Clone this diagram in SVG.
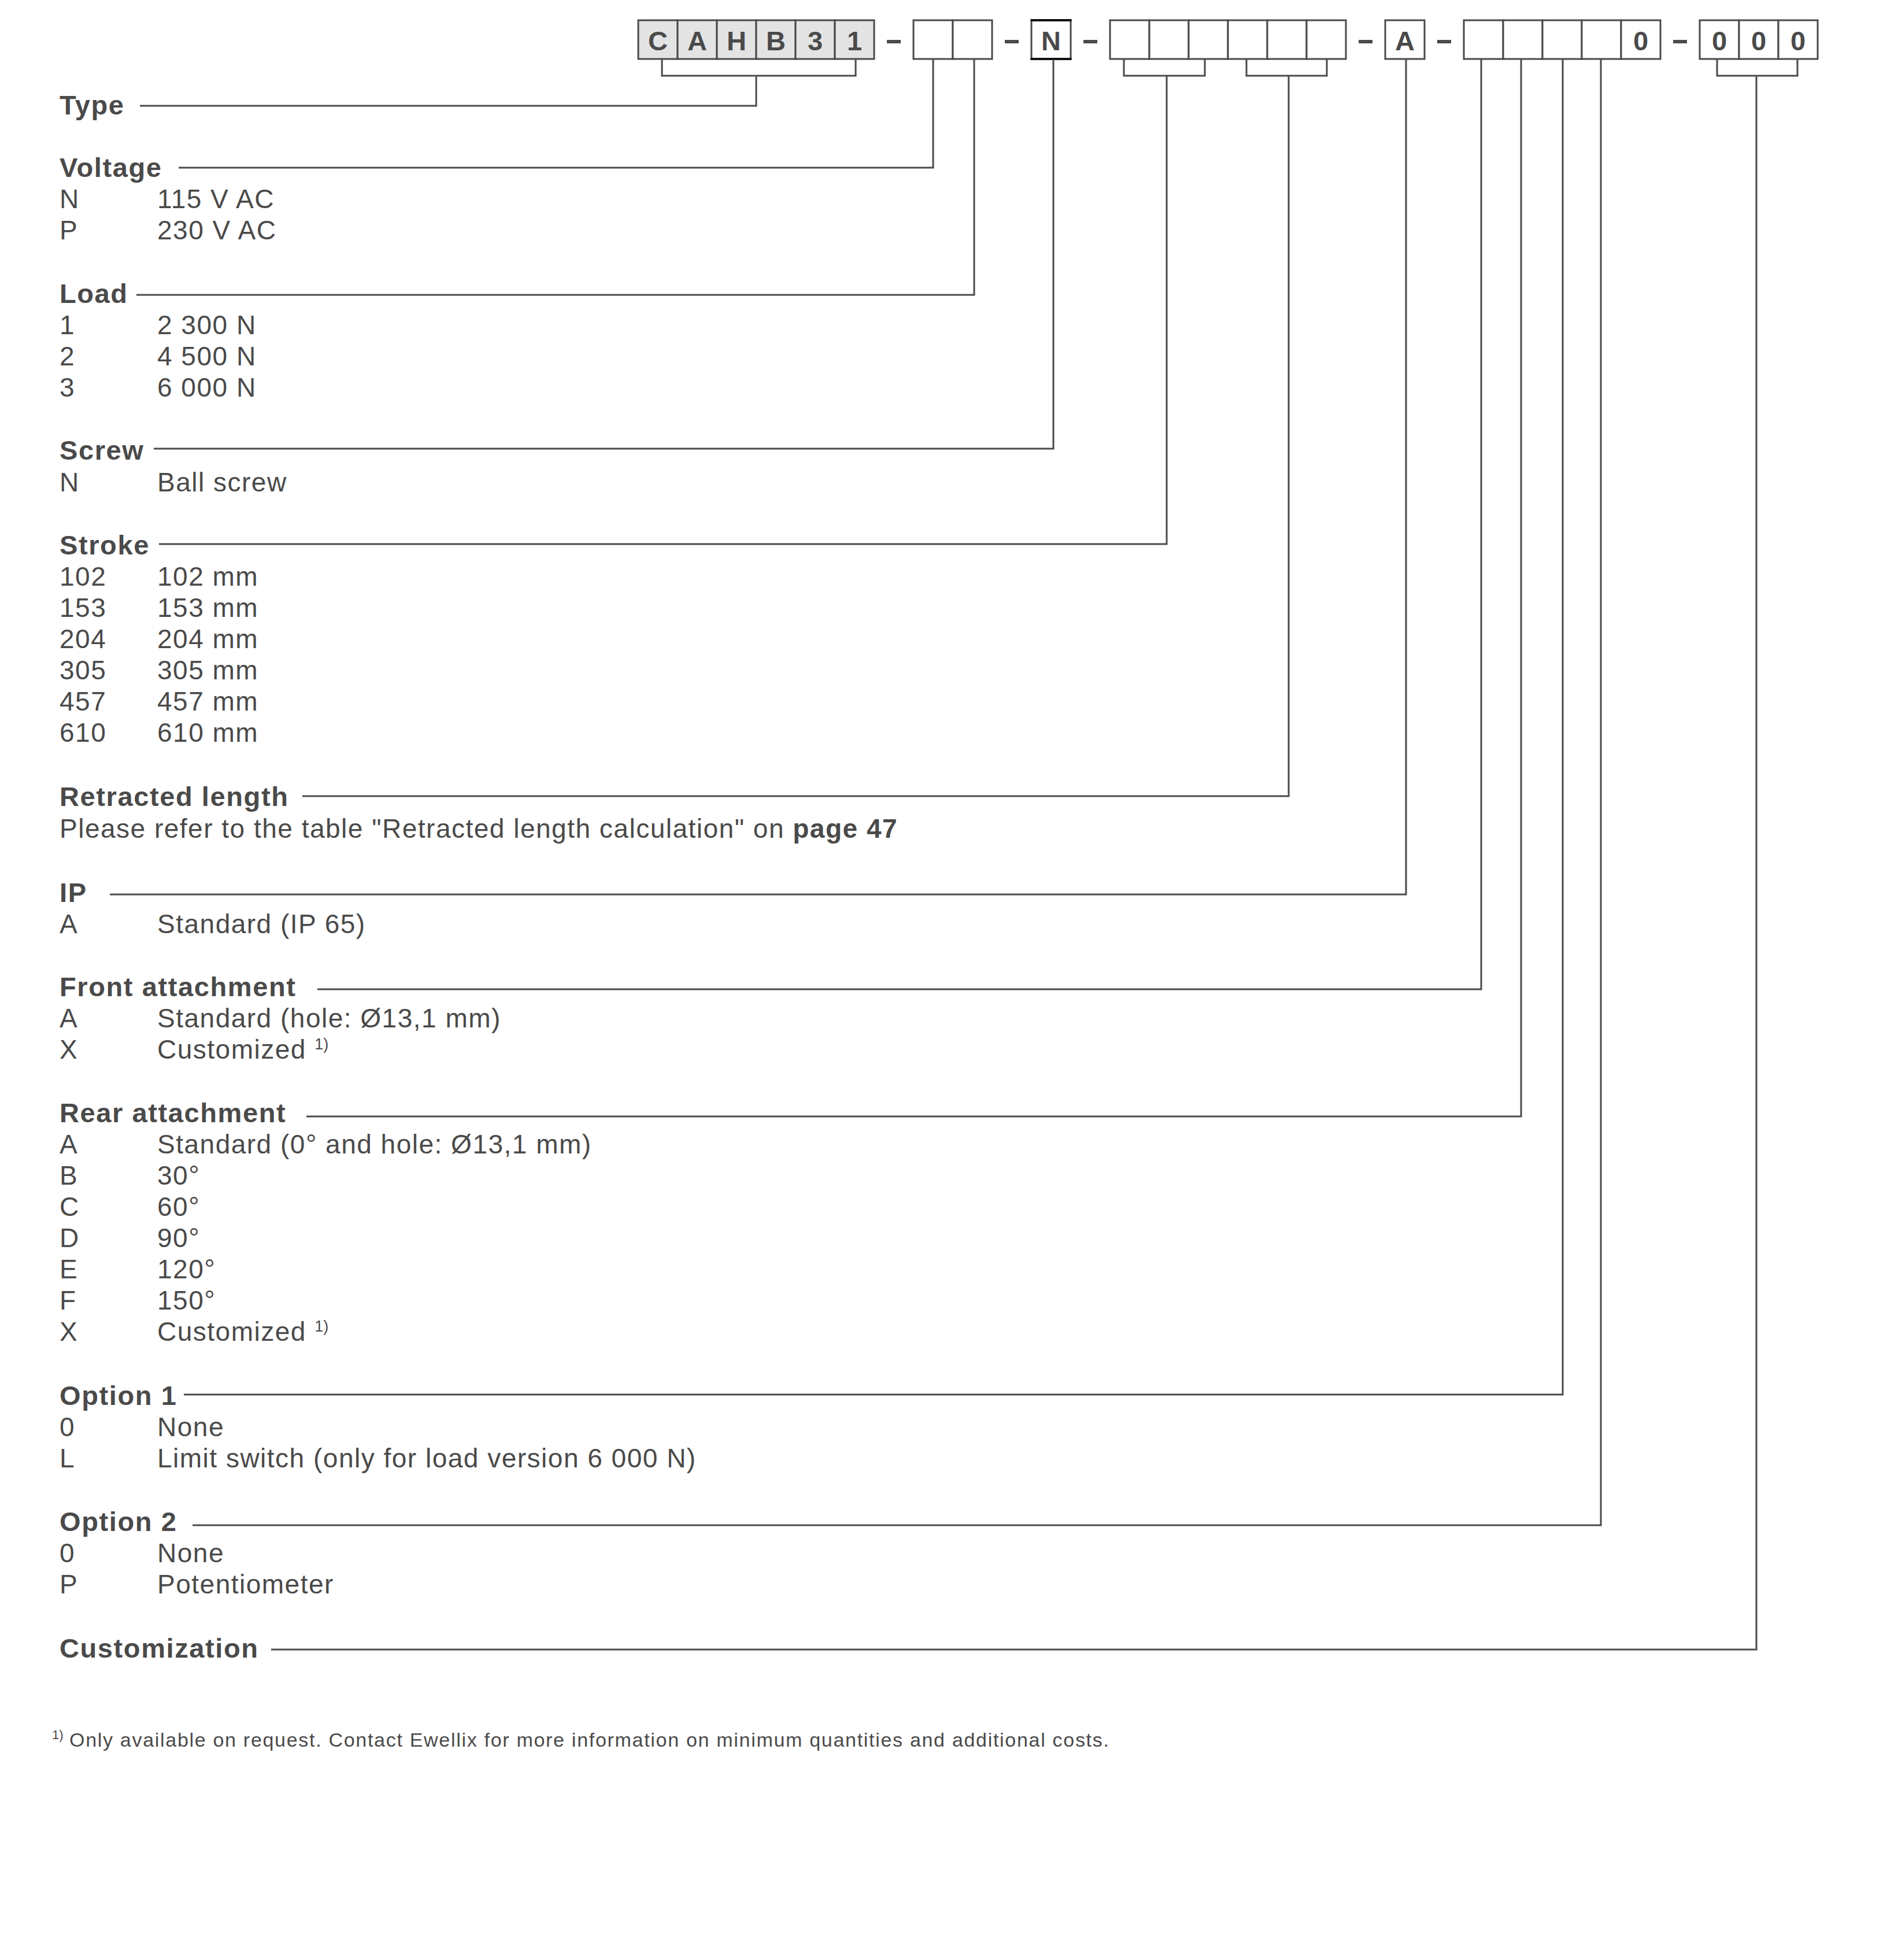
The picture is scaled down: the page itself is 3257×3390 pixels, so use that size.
<svg xmlns="http://www.w3.org/2000/svg" width="3257" height="3390" viewBox="0 0 3257 3390">
<style>
text{font-family:"Liberation Sans",Arial,sans-serif;fill:#4a4a4a}
.h{font-weight:bold;font-size:47px;letter-spacing:1.6px}
.t{font-size:46px;letter-spacing:1.5px}
.bx{fill:#fff;stroke:#4a4a4a;stroke-width:3}
.g{fill:#e3e3e3}
.bl{font-weight:bold;font-size:47px;text-anchor:middle}
.d{fill:#4a4a4a}
.c{fill:none;stroke:#4a4a4a;stroke-width:3}
.sup{font-size:27px;letter-spacing:0}
.fn{font-size:34px;letter-spacing:1.7px}
</style>
<rect width="3257" height="3390" fill="#fff"/>
<g id="code">
<g id="grp-type">
<rect class="bx g" x="1104" y="35" width="68" height="67"/><rect class="bx g" x="1172" y="35" width="68" height="67"/><rect class="bx g" x="1240" y="35" width="68" height="67"/><rect class="bx g" x="1308" y="35" width="68" height="67"/><rect class="bx g" x="1376" y="35" width="68" height="67"/><rect class="bx g" x="1444" y="35" width="68" height="67"/>
<text class="bl" x="1138" y="87">C</text><text class="bl" x="1206" y="87">A</text><text class="bl" x="1274" y="87">H</text><text class="bl" x="1342" y="87">B</text><text class="bl" x="1410" y="87">3</text><text class="bl" x="1478" y="87">1</text>
</g>
<rect class="d" x="1534" y="69" width="24" height="6"/>
<g id="grp-volt"><rect class="bx" x="1580" y="35" width="68" height="67"/><rect class="bx" x="1648" y="35" width="68" height="67"/></g>
<rect class="d" x="1738" y="69" width="24" height="6"/>
<g id="grp-screw"><rect class="bx" x="1784" y="35" width="68" height="67"/><path d="M1782.5,35H1853.5M1782.5,102H1853.5" stroke="#111" stroke-width="4"/><text class="bl" x="1818" y="87">N</text></g>
<rect class="d" x="1874" y="69" width="24" height="6"/>
<g id="grp-stroke"><rect class="bx" x="1920" y="35" width="68" height="67"/><rect class="bx" x="1988" y="35" width="68" height="67"/><rect class="bx" x="2056" y="35" width="68" height="67"/><rect class="bx" x="2124" y="35" width="68" height="67"/><rect class="bx" x="2192" y="35" width="68" height="67"/><rect class="bx" x="2260" y="35" width="68" height="67"/></g>
<rect class="d" x="2350" y="69" width="24" height="6"/>
<g id="grp-ip"><rect class="bx" x="2396" y="35" width="68" height="67"/><text class="bl" x="2430" y="87">A</text></g>
<rect class="d" x="2486" y="69" width="24" height="6"/>
<g id="grp-att"><rect class="bx" x="2532" y="35" width="68" height="67"/><rect class="bx" x="2600" y="35" width="68" height="67"/><rect class="bx" x="2668" y="35" width="68" height="67"/><rect class="bx" x="2736" y="35" width="68" height="67"/><rect class="bx" x="2804" y="35" width="68" height="67"/><text class="bl" x="2838" y="87">0</text></g>
<rect class="d" x="2894" y="69" width="24" height="6"/>
<g id="grp-cust"><rect class="bx" x="2940" y="35" width="68" height="67"/><rect class="bx" x="3008" y="35" width="68" height="67"/><rect class="bx" x="3076" y="35" width="68" height="67"/><text class="bl" x="2974" y="87">0</text><text class="bl" x="3042" y="87">0</text><text class="bl" x="3110" y="87">0</text></g>
</g>
<g id="connectors">
<path class="c" d="M1145,103V131H1480V103M1308,131V183H242"/>
<path class="c" d="M1614,103V290H309"/>
<path class="c" d="M1685,103V510H236"/>
<path class="c" d="M1822,103V776H266"/>
<path class="c" d="M1944,103V131H2084V103M2018,131V941H275"/>
<path class="c" d="M2156,103V131H2295V103M2229,131V1377H523"/>
<path class="c" d="M2432,103V1547H190"/>
<path class="c" d="M2562,103V1711H549"/>
<path class="c" d="M2631,103V1931H530"/>
<path class="c" d="M2703,103V2412H318"/>
<path class="c" d="M2769,103V2638H333"/>
<path class="c" d="M2970,103V131H3109V103M3038,131V2853H469"/>
</g>
<g id="type"><text class="h" x="103" y="198">Type</text></g>
<g id="voltage"><text class="h" x="103" y="306">Voltage</text>
<text class="t" x="103" y="360">N</text><text class="t" x="272" y="360">115 V AC</text>
<text class="t" x="103" y="414">P</text><text class="t" x="272" y="414">230 V AC</text></g>
<g id="load"><text class="h" x="103" y="524">Load</text>
<text class="t" x="103" y="578">1</text><text class="t" x="272" y="578">2 300 N</text>
<text class="t" x="103" y="632">2</text><text class="t" x="272" y="632">4 500 N</text>
<text class="t" x="103" y="686">3</text><text class="t" x="272" y="686">6 000 N</text></g>
<g id="screw"><text class="h" x="103" y="795">Screw</text>
<text class="t" x="103" y="850">N</text><text class="t" x="272" y="850">Ball screw</text></g>
<g id="stroke"><text class="h" x="103" y="959">Stroke</text>
<text class="t" x="103" y="1013">102</text><text class="t" x="272" y="1013">102 mm</text>
<text class="t" x="103" y="1067">153</text><text class="t" x="272" y="1067">153 mm</text>
<text class="t" x="103" y="1121">204</text><text class="t" x="272" y="1121">204 mm</text>
<text class="t" x="103" y="1175">305</text><text class="t" x="272" y="1175">305 mm</text>
<text class="t" x="103" y="1229">457</text><text class="t" x="272" y="1229">457 mm</text>
<text class="t" x="103" y="1283">610</text><text class="t" x="272" y="1283">610 mm</text></g>
<g id="retracted"><text class="h" x="103" y="1394">Retracted length</text>
<text class="t" x="103" y="1449">Please refer to the table "Retracted length calculation" on <tspan font-weight="bold">page 47</tspan></text></g>
<g id="ip"><text class="h" x="103" y="1560">IP</text>
<text class="t" x="103" y="1614">A</text><text class="t" x="272" y="1614">Standard (IP 65)</text></g>
<g id="front"><text class="h" x="103" y="1723">Front attachment</text>
<text class="t" x="103" y="1777">A</text><text class="t" x="272" y="1777">Standard (hole: Ø13,1 mm)</text>
<text class="t" x="103" y="1831">X</text><text class="t" x="272" y="1831">Customized <tspan class="sup" dy="-16">1)</tspan></text></g>
<g id="rear"><text class="h" x="103" y="1941">Rear attachment</text>
<text class="t" x="103" y="1995">A</text><text class="t" x="272" y="1995">Standard (0° and hole: Ø13,1 mm)</text>
<text class="t" x="103" y="2049">B</text><text class="t" x="272" y="2049">30°</text>
<text class="t" x="103" y="2103">C</text><text class="t" x="272" y="2103">60°</text>
<text class="t" x="103" y="2157">D</text><text class="t" x="272" y="2157">90°</text>
<text class="t" x="103" y="2211">E</text><text class="t" x="272" y="2211">120°</text>
<text class="t" x="103" y="2265">F</text><text class="t" x="272" y="2265">150°</text>
<text class="t" x="103" y="2319">X</text><text class="t" x="272" y="2319">Customized <tspan class="sup" dy="-16">1)</tspan></text></g>
<g id="option1"><text class="h" x="103" y="2430">Option 1</text>
<text class="t" x="103" y="2484">0</text><text class="t" x="272" y="2484">None</text>
<text class="t" x="103" y="2538">L</text><text class="t" x="272" y="2538">Limit switch (only for load version 6 000 N)</text></g>
<g id="option2"><text class="h" x="103" y="2648">Option 2</text>
<text class="t" x="103" y="2702">0</text><text class="t" x="272" y="2702">None</text>
<text class="t" x="103" y="2756">P</text><text class="t" x="272" y="2756">Potentiometer</text></g>
<g id="customization"><text class="h" x="103" y="2867">Customization</text></g>
<g id="footnote"><text class="fn" x="90" y="3021"><tspan font-size="22" letter-spacing="0" dy="-13">1)</tspan><tspan x="120" dy="13">Only available on request. Contact Ewellix for more information on minimum quantities and additional costs.</tspan></text></g>
</svg>
